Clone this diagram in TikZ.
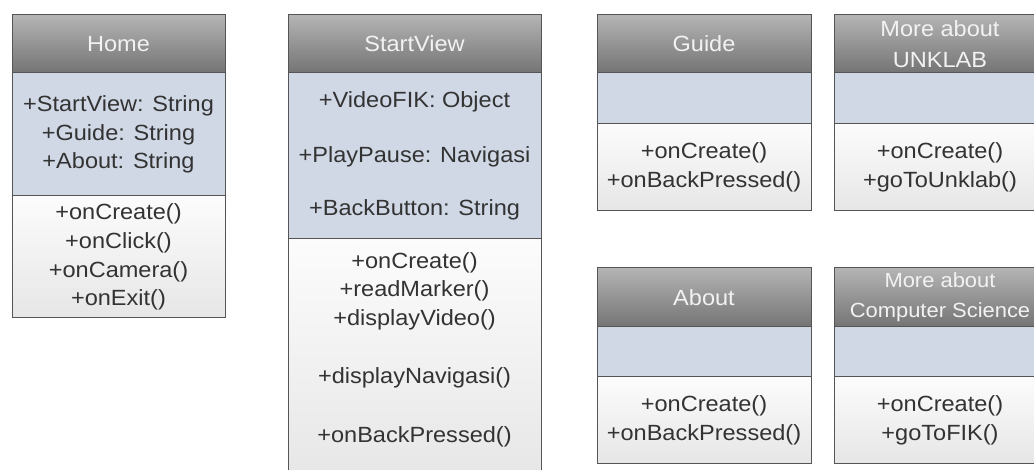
\documentclass[tikz,border=0pt]{standalone}
\usepackage{fontspec}
\setmainfont{Liberation Sans}[FakeStretch=1.07]
\usetikzlibrary{positioning}

\definecolor{linegray}{HTML}{555555}
\definecolor{headtop}{HTML}{B4B4B4}
\definecolor{headbot}{HTML}{747474}
\definecolor{headtext}{HTML}{F2F2F2}
\definecolor{attrfill}{HTML}{D0D8E6}
\definecolor{methtop}{HTML}{FCFCFC}
\definecolor{methbot}{HTML}{E6E6E6}
\definecolor{txt}{HTML}{333333}

\tikzset{
  box/.style={draw=linegray, line width=1pt, rectangle, inner sep=0pt, outer sep=0pt,
    align=center, font=\fontsize{22}{28.7}\selectfont},
  head/.style={box, top color=headtop, bottom color=headbot, text=headtext},
  attrs/.style={box, fill=attrfill, text=txt},
  meths/.style={box, top color=methtop, bottom color=methbot, text=txt},
  lines/.style={inner sep=0pt, align=center, text=txt, font=\fontsize{22}{28.7}\selectfont}
}

\begin{document}
\begin{tikzpicture}[x=1pt, y=-1pt]
    \clip (0,0) rectangle (1034,470);
    \fill[white] (0,0) rectangle (1034,470);

    % Home
    \node[head, minimum width=213pt, minimum height=58pt, anchor=north west] (home) at (12,15) {Home};
    \node[attrs, minimum width=213pt, minimum height=123pt, below=0pt of home] (home-a)
        {+StartView: String\\+Guide: String\\+About: String};
    \node[meths, minimum width=213pt, minimum height=122pt, below=0pt of home-a] (home-m)
        {+onCreate()\\+onClick()\\+onCamera()\\+onExit()};

    % StartView
    \node[head, minimum width=253pt, minimum height=58pt, anchor=north west] (start) at (288,15) {StartView};
    \node[attrs, minimum width=253pt, minimum height=166pt, below=0pt of start] (start-a)
        {+VideoFIK: Object\\[26pt]+PlayPause: Navigasi\\[24pt]+BackButton: String};
    \node[meths, minimum width=253pt, minimum height=245pt, below=0pt of start-a] (start-m) {};
    \node[lines, below=13pt of start-m.north] (start-ml)
        {+onCreate()\\+readMarker()\\+displayVideo()\\[29pt]+displayNavigasi()\\[31pt]+onBackPressed()};

    % Guide
    \node[head, minimum width=214pt, minimum height=58pt, anchor=north west] (guide) at (597,15) {Guide};
    \node[attrs, minimum width=214pt, minimum height=51pt, below=0pt of guide] (guide-a) {};
    \node[meths, minimum width=214pt, minimum height=87pt, below=0pt of guide-a] (guide-m)
        {+onCreate()\\+onBackPressed()};

    % More about UNKLAB
    \node[head, minimum width=212pt, minimum height=58pt, anchor=north west] (unklab) at (834,15)
        {More about\\[2pt]UNKLAB};
    \node[attrs, minimum width=212pt, minimum height=51pt, below=0pt of unklab] (unklab-a) {};
    \node[meths, minimum width=212pt, minimum height=87pt, below=0pt of unklab-a] (unklab-m)
        {+onCreate()\\+goToUnklab()};

    % About
    \node[head, minimum width=214pt, minimum height=59pt, anchor=north west] (about) at (597,268) {About};
    \node[attrs, minimum width=214pt, minimum height=50pt, below=0pt of about] (about-a) {};
    \node[meths, minimum width=214pt, minimum height=86pt, below=0pt of about-a] (about-m)
        {+onCreate()\\+onBackPressed()};

    % More about Computer Science
    \node[head, minimum width=212pt, minimum height=59pt, anchor=north west,
          font=\fontsize{20.5}{28.7}\selectfont] (cs) at (834,268)
        {More about\\[1pt]Computer Science};
    \node[attrs, minimum width=212pt, minimum height=50pt, below=0pt of cs] (cs-a) {};
    \node[meths, minimum width=212pt, minimum height=86pt, below=0pt of cs-a] (cs-m)
        {+onCreate()\\+goToFIK()};

\end{tikzpicture}
\end{document}
